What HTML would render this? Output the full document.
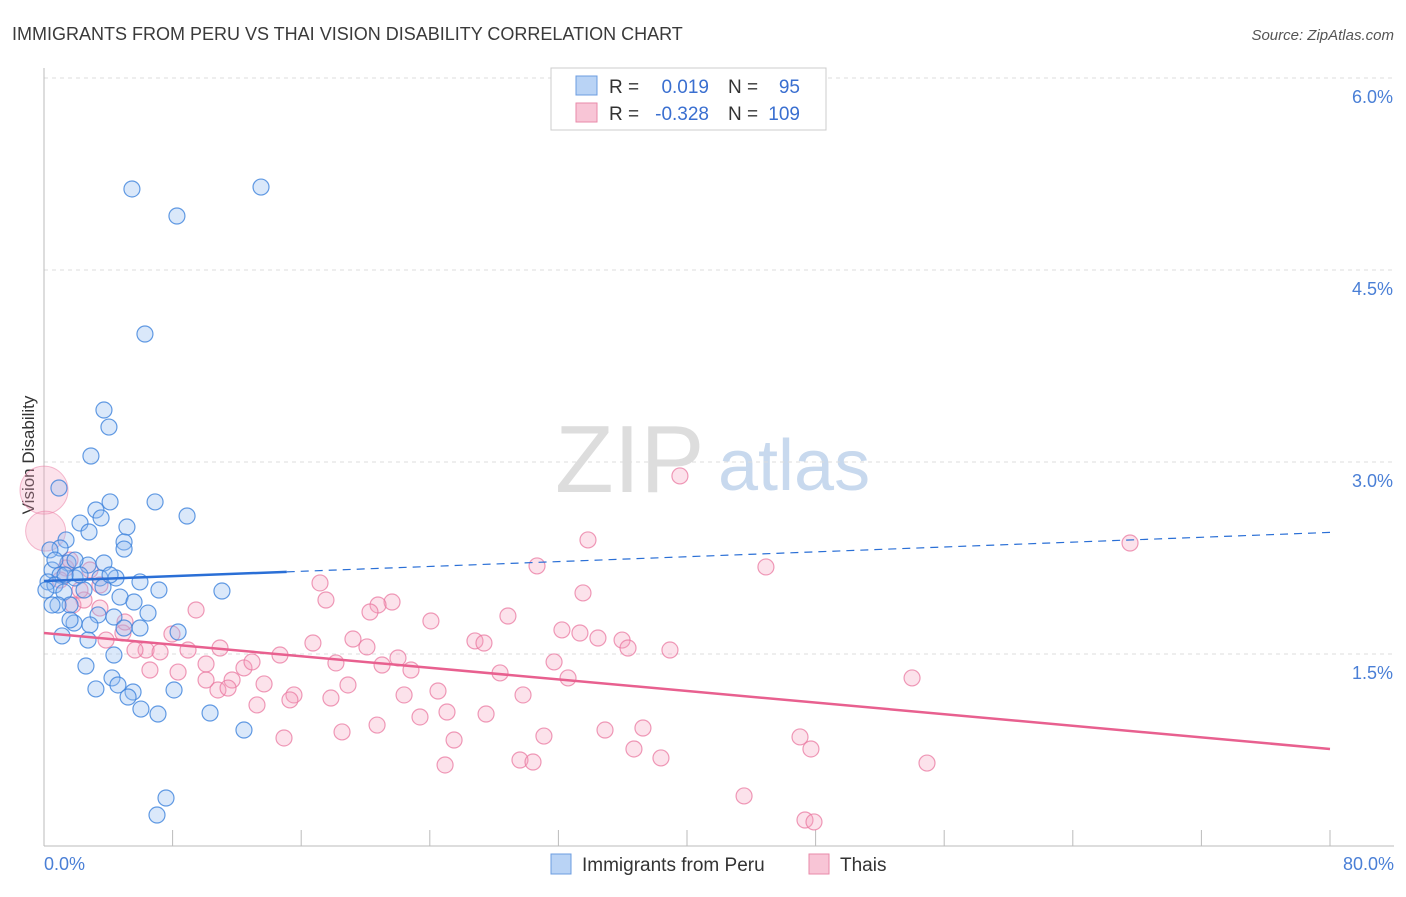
<!DOCTYPE html>
<html><head><meta charset="utf-8"><style>
body{margin:0;background:#fff;font-family:"Liberation Sans",sans-serif;}
svg text{font-family:"Liberation Sans",sans-serif;}
</style></head><body>
<svg id="chart" width="1406" height="892" xmlns="http://www.w3.org/2000/svg">
<text x="12" y="40" font-size="18" fill="#3a3a3a">IMMIGRANTS FROM PERU VS THAI VISION DISABILITY CORRELATION CHART</text>
<text x="1394" y="40" font-size="15" font-style="italic" fill="#555" text-anchor="end">Source: ZipAtlas.com</text>
<g><text x="555" y="492" font-size="96" font-family="Liberation Serif" fill="#ddd">ZIP</text><text x="718" y="490" font-size="72" fill="#c8d9ee">atlas</text></g>
<g id="grid"></g>
<line x1="44" y1="68" x2="44" y2="846" stroke="#bbb"/>
<line x1="44" y1="846" x2="1394" y2="846" stroke="#bbb"/>
<text transform="translate(34,455) rotate(-90)" font-size="17" fill="#333" text-anchor="middle">Vision Disability</text>
<text x="44" y="870" font-size="18" fill="#4a7fd6">0.0%</text>
<text x="1394" y="870" font-size="18" fill="#4a7fd6" text-anchor="end">80.0%</text>
<g id="pts"></g>
<g id="trends"></g>
<g>
<rect x="551" y="68" width="275" height="62" fill="#fff" stroke="#ccc"/>
<rect x="576" y="76" width="21" height="19" fill="#b9d3f5" stroke="#6c9ce0"/>
<rect x="576" y="103" width="21" height="19" fill="#f8c5d6" stroke="#e98aa9"/>
<text x="609" y="93" font-size="19" fill="#333">R =</text><text x="709" y="93" font-size="19" fill="#3a6fd0" text-anchor="end">0.019</text>
<text x="728" y="93" font-size="19" fill="#333">N =</text><text x="800" y="93" font-size="19" fill="#3a6fd0" text-anchor="end">95</text>
<text x="609" y="120" font-size="19" fill="#333">R =</text><text x="709" y="120" font-size="19" fill="#3a6fd0" text-anchor="end">-0.328</text>
<text x="728" y="120" font-size="19" fill="#333">N =</text><text x="800" y="120" font-size="19" fill="#3a6fd0" text-anchor="end">109</text>
</g>
<g><rect x="551" y="854" width="20" height="20" fill="#b9d3f5" stroke="#6c9ce0"/><text x="582" y="871" font-size="19" fill="#333">Immigrants from Peru</text></g>
<g><rect x="809" y="854" width="20" height="20" fill="#f8c5d6" stroke="#e98aa9"/><text x="840" y="871" font-size="19" fill="#333">Thais</text></g>
</svg>
<script>
const yTicks=[1.5,3.0,4.5,6.0];
const xTicks=[0,8,16,24,32,40,48,56,64,72,80];
const bluePx=[[132,189],[261,187],[177,216],[145,334],[104,410],[109,427],[91,456],[155,502],[187,516],[59,488],[110,502],[96,510],[101,518],[80,523],[127,527],[89,532],[124,542],[124,549],[66,540],[60,548],[50,550],[104,563],[68,563],[88,565],[52,570],[60,575],[75,578],[100,578],[116,578],[140,582],[48,582],[55,585],[222,591],[159,590],[84,590],[64,592],[103,587],[120,597],[134,602],[70,605],[58,605],[148,613],[98,615],[114,617],[74,623],[90,625],[140,628],[178,632],[62,636],[88,640],[124,628],[114,655],[86,666],[210,713],[244,730],[96,689],[112,678],[118,685],[133,692],[128,697],[174,690],[141,709],[158,714],[166,798],[157,815],[70,620],[52,605],[46,590],[75,560],[80,575],[110,575],[55,560],[65,575]];
const pinkPx=[[680,476],[588,540],[1130,543],[537,566],[766,567],[320,583],[583,593],[392,602],[326,600],[508,616],[196,610],[431,621],[73,605],[84,600],[562,630],[580,633],[598,638],[622,640],[628,648],[475,641],[484,643],[353,639],[367,647],[313,643],[220,648],[670,650],[146,650],[160,652],[188,650],[106,640],[123,633],[280,655],[398,658],[554,662],[336,663],[382,665],[411,670],[150,670],[178,672],[206,664],[244,668],[252,662],[232,680],[500,673],[568,678],[218,690],[206,680],[264,684],[294,695],[348,685],[438,691],[404,695],[523,695],[912,678],[257,705],[290,700],[331,698],[420,717],[447,712],[486,714],[377,725],[284,738],[342,732],[454,740],[605,730],[643,728],[544,736],[800,737],[811,749],[634,749],[520,760],[533,762],[661,758],[927,763],[445,765],[744,796],[805,820],[814,822],[90,570],[100,585],[66,568],[125,622],[135,650],[100,608],[172,634],[228,688],[378,605],[370,612],[60,580],[70,560],[80,590]];
// convert read pixel positions to data values (x %, y %)
const blueX=bluePx.map(p=>+((p[0]-44)/16.075).toFixed(2));
const blueY=bluePx.map(p=>+((846-p[1])/128).toFixed(3));
const pinkX=pinkPx.map(p=>+((p[0]-44)/16.075).toFixed(2));
const pinkY=pinkPx.map(p=>+((846-p[1])/128).toFixed(3));
const bigPinkX=[0,0.1];
const bigPinkY=[2.78,2.46];
const blueTrend=[2.07,2.45];
const pinkTrend=[1.664,0.758];
const sx=v=>44+v*16.075, sy=v=>846-v*128;
const NS="http://www.w3.org/2000/svg";
function mk(t,a,parent){const e=document.createElementNS(NS,t);for(const k in a)e.setAttribute(k,a[k]);parent.appendChild(e);return e;}
const grid=document.getElementById('grid');
yTicks.forEach(v=>{
 const l=mk('line',{x1:44,x2:1394,y1:sy(v),y2:sy(v),stroke:'#ddd','stroke-dasharray':'4,4'},grid);
 
 
 const t=mk('text',{x:1393,y:sy(v)+25,'font-size':18,fill:'#4a7fd6','text-anchor':'end'},grid);
 t.textContent=v.toFixed(1)+'%';
 
 
});
xTicks.forEach(v=>{
 const l=mk('line',{x1:sx(v),x2:sx(v),y1:830,y2:846,stroke:'#bbb'},grid);
 
 
});
const pts=document.getElementById('pts');
bigPinkX.forEach((x,i)=>{
 const c=mk('circle',{cx:sx(x),cy:sy(bigPinkY[i]),r:i?20:24,fill:'rgba(244,160,190,0.3)',stroke:'rgba(233,120,160,0.5)'},pts);
 
 
});
pinkX.forEach((x,i)=>{
 const c=mk('circle',{cx:sx(x),cy:sy(pinkY[i]),r:8,fill:'rgba(244,160,190,0.3)',stroke:'rgba(233,120,160,0.75)','stroke-width':1.2},pts);
 
 
});
blueX.forEach((x,i)=>{
 const c=mk('circle',{cx:sx(x),cy:sy(blueY[i]),r:8,fill:'rgba(150,190,240,0.35)',stroke:'rgba(60,130,220,0.8)','stroke-width':1.2},pts);
 
 
});
const tr=document.getElementById('trends');
const bAt=x=>blueTrend[0]+(blueTrend[1]-blueTrend[0])*x/80;
let l=mk('line',{x1:sx(0),y1:sy(bAt(0)),x2:sx(15.1),y2:sy(bAt(15.1)),stroke:'#2a6fd6','stroke-width':2.5},tr);


l=mk('line',{x1:sx(15.1),y1:sy(bAt(15.1)),x2:sx(80),y2:sy(bAt(80)),stroke:'#2a6fd6','stroke-width':1.2,'stroke-dasharray':'8,6'},tr);


l=mk('line',{x1:sx(0),y1:sy(pinkTrend[0]),x2:sx(80),y2:sy(pinkTrend[1]),stroke:'#e8608f','stroke-width':2.5},tr);


</script>
</body></html>
